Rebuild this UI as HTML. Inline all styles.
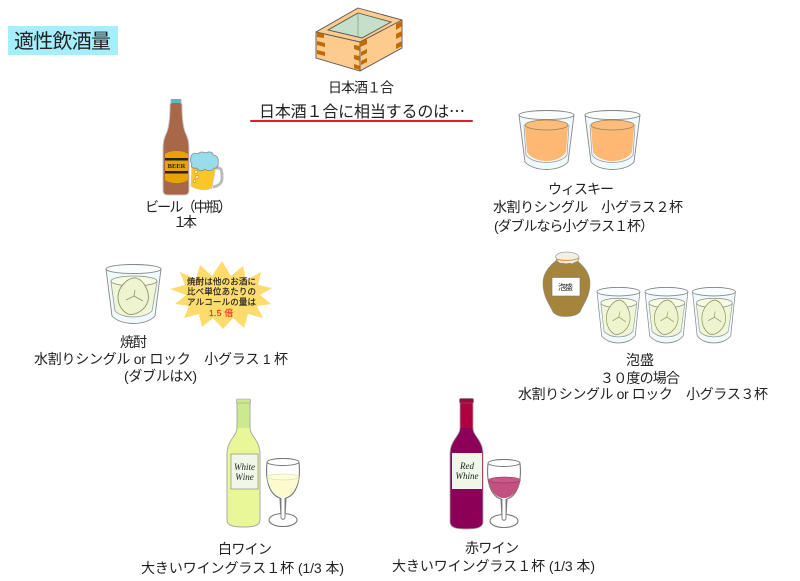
<!DOCTYPE html>
<html lang="ja"><head><meta charset="utf-8"><title>適性飲酒量</title>
<style>
html,body{margin:0;padding:0;background:#fff;width:800px;height:581px;overflow:hidden}
svg{display:block;filter:blur(.35px)}
text{font-family:"Liberation Sans","Noto Sans CJK JP",sans-serif;fill:#222;font-size:14px;text-spacing-trim:space-all;font-kerning:none}
.s{font-size:8.500px;stroke:#222;stroke-width:.18px}
.w{font-size:9px;font-style:italic;font-family:"Liberation Serif",serif;text-anchor:middle}
</style></head><body>
<svg width="800" height="581" viewBox="0 0 800 581" xmlns="http://www.w3.org/2000/svg">
<defs>
<g id="glass">
<path d="M0 5C10 -1 45 -1 55 5L49 52C40 62 15 62 6 52Z" fill="#f0f9fb" stroke="#888" stroke-width=".9"/>
<ellipse cx="27.500" cy="5" rx="27.500" ry="4.500" fill="#f9fdfd" stroke="#888" stroke-width=".9"/>
</g>
<g id="rock">
<use href="#glass"/>
<path d="M5 18C5 13 51 13 51 18L46 47C38 55 17 55 9 47Z" fill="#f0f7d8" stroke="#999" stroke-width=".8"/>
<ellipse cx="28" cy="17" rx="23" ry="5" fill="#f6fae2" stroke="#888" stroke-width=".8"/>
<path d="M12 33C12 23 22 13 30 14C38 16 44 28 42 37C39 47 28 52 22 50C16 47 12 41 12 33Z" fill="#edf4cf" stroke="#8f9268" stroke-width=".9"/>
<path d="M20 36L28 32L29 26M28 32L37 37" fill="none" stroke="#8f9268" stroke-width=".8"/>
</g>
<g id="whisky">
<use href="#glass"/>
<path d="M6 17C6 11 49 11 49 17L47 42C40 54 15 54 8 42Z" fill="#fdb873"/>
<ellipse cx="27.500" cy="15" rx="21.500" ry="5" fill="#fcbc7a" stroke="#a08058" stroke-width=".8"/>
<path d="M5 15L7 45C14 55 41 55 48 45L50 15" fill="none" stroke="#999" stroke-width=".7"/>
</g>
<g id="wglass">
<path d="M1 6C-1 24 4 38 14 41L15 58H19L20 41C30 38 35 24 33 6C33 0 1 0 1 6Z" fill="#fff" stroke="#777" stroke-width="1.100"/>
<ellipse cx="17" cy="63" rx="14" ry="6.500" fill="#fff" stroke="#777" stroke-width="1.100"/>
<path d="M15 41L15 60C15 63 19 63 19 60L19 41" fill="#fff" stroke="#777" stroke-width=".9"/>
<ellipse cx="17" cy="5" rx="16" ry="3.500" fill="#fff" stroke="#777" stroke-width=".9"/>
</g>
</defs>

<rect x="8" y="26" width="110" height="29" fill="#a5effd"/>
<text x="14" y="48" style="font-size:20px" textLength="97">適性飲酒量</text>

<!-- masu -->
<path d="M358 8L402 20V48L360 71L316 58V32Z" fill="#fdcb8e" stroke="#555" stroke-width=".9"/>
<path d="M358 13L391 22L362 38L328 30Z" fill="#c4dfca" stroke="#555" stroke-width=".9"/>
<path d="M358 14V37" fill="none" stroke="#7c9a8c" stroke-width=".7"/>
<path d="M316 32L360 42L402 20M360 42V71" fill="none" stroke="#555" stroke-width=".9"/>
<g fill="#c06c00">
<path d="M317 32L324 34V38L317 37Z"/><path d="M317 41L325 43V47L317 45Z"/><path d="M317 50L325 52V56L317 54Z"/>
<path d="M354 45L360 46V51L354 49Z"/><path d="M354 55L360 56V61L354 59Z"/><path d="M354 64L360 66V70L354 68Z"/>
<path d="M360 42L367 39V44L360 47Z"/><path d="M361 52L367 49V53L361 56Z"/><path d="M361 61L367 58V62L361 65Z"/>
<path d="M396 24L402 21V26L396 30Z"/><path d="M396 34L402 31V36L396 39Z"/><path d="M396 44L402 41V46L396 49Z"/>
</g>
<text x="328" y="92.500" textLength="66">日本酒１合</text>
<text x="259" y="117" style="font-size:16px" textLength="206">日本酒１合に相当するのは<tspan style="font-family:'Noto Sans CJK JP',sans-serif">…</tspan></text>
<rect x="250" y="120" width="223" height="2" rx="1" fill="#e8172c"/>

<!-- beer -->
<path d="M171 99.500H181V103L182 104C182 118 183 128 186 134C188 138 189 142 189 148V190C189 195 186 195 183 195H169C166 195 163 195 163 190V148C163 142 164 138 166 134C169 128 170 118 170 104L171 103Z" fill="#a9674a" stroke="#c9c9c9" stroke-width="1"/>
<rect x="171" y="99" width="10" height="4" rx="1" fill="#66b3c4"/>
<path d="M165 154C170 150 183 150 188 154V180C183 184 170 184 165 180Z" fill="#e7a400"/>
<rect x="165" y="158" width="23" height="2.500" fill="#222"/><rect x="165" y="171" width="23" height="2.500" fill="#222"/>
<text x="176.500" y="168" style="font-size:6.500px;font-weight:bold;font-family:'Liberation Serif',serif" text-anchor="middle">BEER</text>
<path d="M213 168H218C222 168 222 172 222 178C222 184 218 186 213 187" fill="none" stroke="#bbb" stroke-width="3"/>
<path d="M192 162L216 165L212 188C206 191 196 190 191 186Z" fill="#fcc629" stroke="#ccc" stroke-width=".8"/>
<path d="M191 157C191 153 196 153 198 154C200 151 204 152 206 153C209 151 213 152 213 155C216 155 219 158 218 161C219 165 217 169 214 168C212 172 207 171 205 169C202 172 198 171 197 168C193 169 190 167 192 164C190 162 190 159 191 157Z" fill="#99dcec" stroke="#888" stroke-width=".8"/>
<circle cx="196" cy="172" r="1.800" fill="#fde9a0" stroke="#a07c22" stroke-width=".5"/><circle cx="197" cy="177" r="1.800" fill="#fde9a0" stroke="#a07c22" stroke-width=".5"/><circle cx="194.500" cy="181" r="1.400" fill="#fde9a0" stroke="#a07c22" stroke-width=".5"/>
<text x="145" y="212" textLength="87">ビール（中瓶）</text>
<text x="173" y="227" textLength="24">１本</text>

<!-- whisky -->
<use href="#whisky" x="519" y="110"/><use href="#whisky" x="585" y="110"/>
<text x="548" y="194" textLength="66">ウィスキー</text>
<text x="493" y="212" textLength="190">水割りシングル　小グラス２杯</text>
<text x="494" y="231" textLength="160">(ダブルなら小グラス１杯）</text>

<!-- shochu -->
<use href="#rock" x="106" y="264"/>
<polygon points="222,261 231,276 243,266 246,280 261,272 258,285 272,288 260,295 271,304 257,306 263,318 248,314 244,328 233,318 223,329 213,318 202,327 199,314 184,318 189,306 175,304 186,295 170,289 185,285 180,272 196,279 200,265 212,276" fill="#fddb6d"/>
<text class="s" x="187" y="284.500" textLength="69">焼酎は他のお酒に</text>
<text class="s" x="187" y="294.500" textLength="69">比べ単位あたりの</text>
<text class="s" x="187" y="305" textLength="69">アルコールの量は</text>
<text class="s" x="209" y="316" style="fill:#f0301c;stroke:#f0301c" textLength="24">1.5 倍</text>
<text x="120" y="347" textLength="27">焼酎</text>
<text x="34" y="364" textLength="254">水割りシングル or ロック　小グラス 1 杯</text>
<text x="124" y="381" textLength="73">(ダブルはX)</text>

<!-- awamori -->
<path d="M557 260C549 266 543 274 543 283C543 297 550 305 553 312C558 318 574 318 580 312C583 304 590 297 590 283C590 274 584 266 576 260Z" fill="#a5853c" stroke="#888" stroke-width=".6"/>
<path d="M556 258C553 250 580 250 579 258C579 262 575 262 572 264C569 262 566 265 563 263C560 264 557 262 556 258Z" fill="#f3efe4" stroke="#888" stroke-width=".6"/>
<path d="M556 259C562 261 574 261 579 258" fill="none" stroke="#e08a38" stroke-width="1"/>
<rect x="552" y="277.500" width="28" height="18.500" fill="#fff" stroke="#777" stroke-width=".6"/>
<text x="558" y="290" style="font-size:8px" textLength="15">泡盛</text>
<g transform="translate(597 287) scale(.78 .94)"><use href="#rock"/></g>
<g transform="translate(645 287) scale(.78 .94)"><use href="#rock"/></g>
<g transform="translate(692.500 287) scale(.78 .94)"><use href="#rock"/></g>
<text x="626" y="365" textLength="28">泡盛</text>
<text x="600" y="383" textLength="80">３０度の場合</text>
<text x="518" y="399" textLength="250">水割りシングル or ロック　小グラス３杯</text>

<!-- white wine -->
<path d="M237 400H250V428C250 436 260 440 260 454V520C260 527 250 527 243.500 527C237 527 227 527 227 520V454C227 440 237 436 237 428Z" fill="#eaf799" stroke="#aaa" stroke-width="1"/>
<path d="M237.500 403H249.500V428H237.500Z" fill="#cce98e"/>
<rect x="236.500" y="399" width="14" height="4" rx="1" fill="#cde88c" stroke="#999" stroke-width=".6"/>
<rect x="231" y="454" width="27" height="35" fill="#f0f7e8" stroke="#888" stroke-width=".7"/>
<text class="w" x="244.500" y="470">White</text>
<text class="w" x="244.500" y="480">Wine</text>
<use href="#wglass" x="266" y="457"/>
<path d="M267 476C276 473 290 473 299 476C298 486 293 495 285 497H281C273 495 268 486 267 476Z" fill="#fbfbcf"/>
<ellipse cx="283" cy="477" rx="15.500" ry="3" fill="#fdfddb" stroke="#d4d48a" stroke-width=".5"/>
<text x="218" y="554" textLength="54">白ワイン</text>
<text x="141" y="573" textLength="203">大きいワイングラス１杯 (1/3 本)</text>

<!-- red wine -->
<path d="M460 399H473V428C473 436 483 440 483 454V522C483 529 473 529 466.500 529C460 529 450 529 450 522V454C450 440 460 436 460 428Z" fill="#8c0058" stroke="#aaa" stroke-width=".8"/>
<path d="M460.500 403H472.500V428H460.500Z" fill="#b0003f"/>
<rect x="459.500" y="398.500" width="14" height="4.500" rx="1" fill="#9c0a3c" stroke="#777" stroke-width=".5"/>
<rect x="452" y="453" width="30" height="36" fill="#eef7e8"/>
<text class="w" x="467" y="469">Red</text>
<text class="w" x="467" y="479">Whine</text>
<use href="#wglass" x="487" y="458"/>
<path d="M488.500 480C497 476 512 476 520.500 480C519 489 514 496 506 498H502C494 496 490 489 488.500 480Z" fill="#c2517f"/>
<ellipse cx="504.500" cy="480" rx="16" ry="3" fill="#c75a88" stroke="#8c2a56" stroke-width=".5"/>
<text x="465" y="553" textLength="54">赤ワイン</text>
<text x="392" y="571" textLength="203">大きいワイングラス１杯 (1/3 本)</text>
</svg>
</body></html>
